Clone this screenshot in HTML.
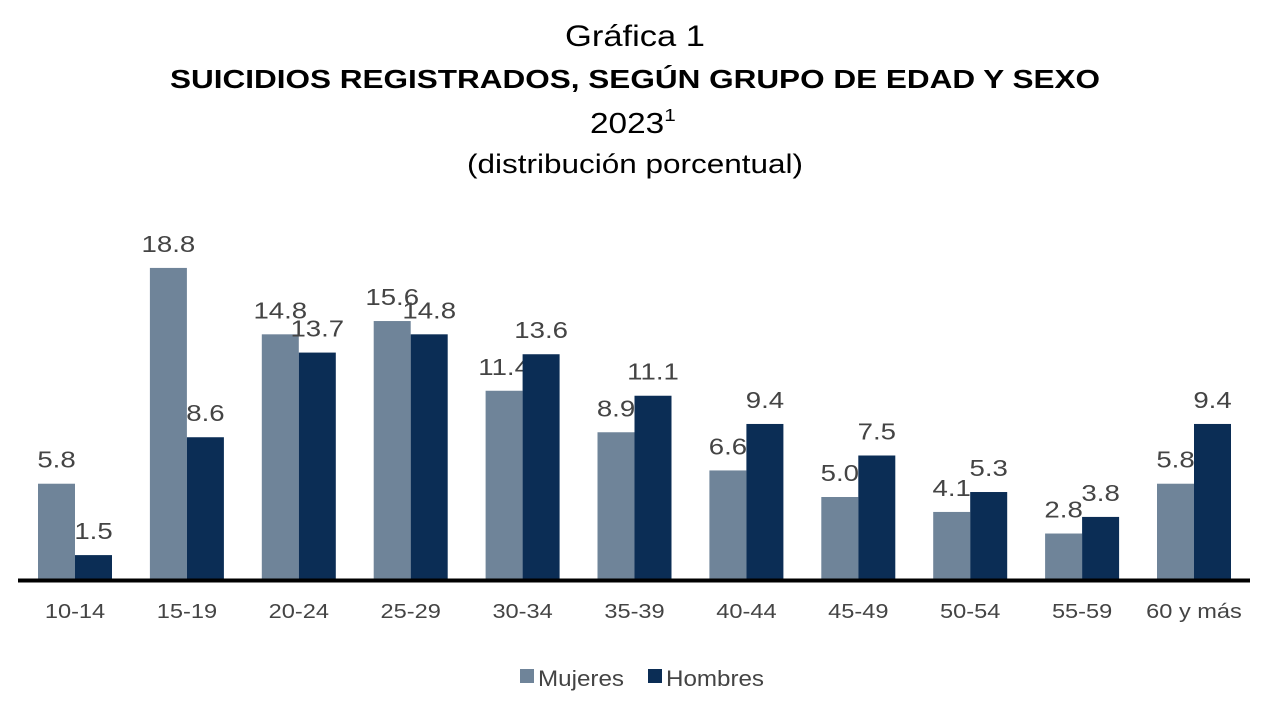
<!DOCTYPE html>
<html><head><meta charset="utf-8"><style>
html,body{margin:0;padding:0;background:#fff;width:1280px;height:714px;overflow:hidden}
text{font-family:"Liberation Sans",sans-serif}
</style></head><body>
<svg id="chart" width="1280" height="714">
<text x="565" y="46" font-size="30" fill="#000" textLength="140" lengthAdjust="spacingAndGlyphs">Gráfica 1</text>
<text x="170" y="88" font-size="26" font-weight="bold" fill="#000" textLength="930" lengthAdjust="spacingAndGlyphs">SUICIDIOS REGISTRADOS, SEGÚN GRUPO DE EDAD Y SEXO</text>
<text x="590" y="133" font-size="29" fill="#000" transform="translate(590,0) scale(1.15,1) translate(-590,0)">2023<tspan font-size="18" dy="-12">1</tspan></text>
<text x="467" y="173" font-size="27" fill="#000" textLength="336" lengthAdjust="spacingAndGlyphs">(distribución porcentual)</text>
<g id="bars"></g>
<line x1="18" y1="580.5" x2="1250" y2="580.5" stroke="#000" stroke-width="4"/>
<g>
<rect x="520" y="669" width="14" height="14" fill="#6f8499"/>
<text x="538" y="686" font-size="22" fill="#444" textLength="86" lengthAdjust="spacingAndGlyphs">Mujeres</text>
<rect x="648" y="669" width="14" height="14" fill="#0b2d55"/>
<text x="666" y="686" font-size="22" fill="#444" textLength="98" lengthAdjust="spacingAndGlyphs">Hombres</text>
</g>
</svg>
<script>
const categories=["10-14","15-19","20-24","25-29","30-34","35-39","40-44","45-49","50-54","55-59","60 y más"];
const mujeres=[5.8,18.8,14.8,15.6,11.4,8.9,6.6,5.0,4.1,2.8,5.8];
const hombres=[1.5,8.6,13.7,14.8,13.6,11.1,9.4,7.5,5.3,3.8,9.4];
const NS="http://www.w3.org/2000/svg";
const g=document.getElementById('bars');
const base=580, scale=16.6, x0=38, step=111.9, bw=37;
function y(v){return base-v*scale;}
function xg(i){return x0+i*step;}
function mk(tag,attrs){const e=document.createElementNS(NS,tag);for(const k in attrs)e.setAttribute(k,attrs[k]);g.appendChild(e);return e;}
categories.forEach((c,i)=>{
  const series=[[mujeres[i],"#6f8499","mujeres"],[hombres[i],"#0b2d55","hombres"]];
  series.forEach((s,j)=>{
    const x=xg(i)+j*bw;
    const r=mk('rect',{x:x,y:y(s[0]),width:bw,height:base-y(s[0]),fill:s[1]});
    
    
    const t=mk('text',{x:0,y:0,'text-anchor':'middle','font-size':'23',fill:'#444',transform:'translate('+(x+bw/2)+','+(y(s[0])-16)+') scale(1.2,1)'});
    t.textContent=s[0].toFixed(1);
    
    
  });
  const l=mk('text',{x:0,y:0,'text-anchor':'middle','font-size':'20',fill:'#444',transform:'translate('+(xg(i)+bw)+',618) scale(1.18,1)'});
  l.textContent=c;
  
  
});
</script>
</body></html>
